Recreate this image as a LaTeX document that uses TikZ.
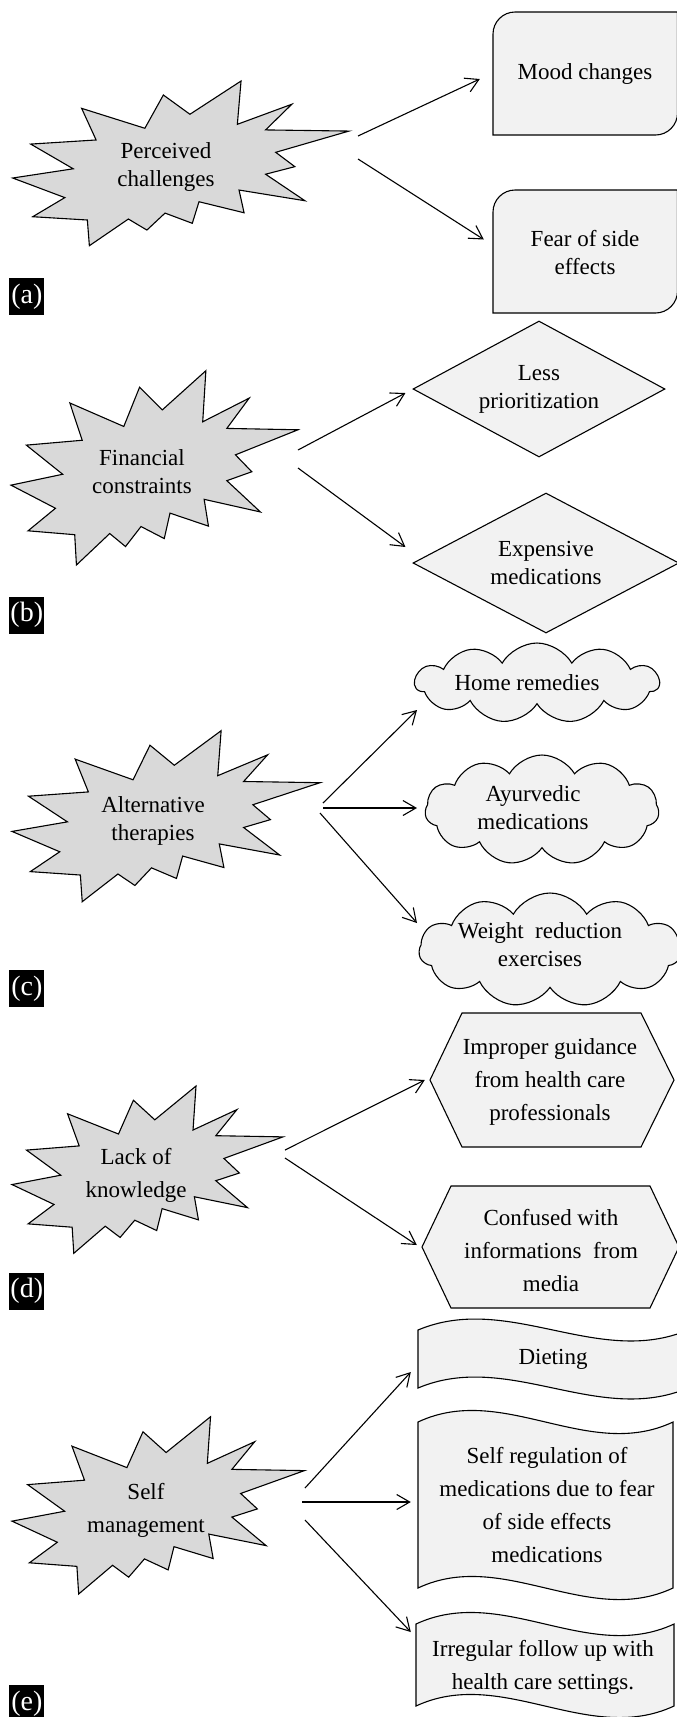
\documentclass[tikz,border=0pt]{standalone}
\usepackage{fontspec}
\setmainfont{Liberation Serif}
\usetikzlibrary{shapes.geometric,shapes.symbols,arrows.meta}
\definecolor{burstgray}{RGB}{217,217,217}
\definecolor{shapegray}{RGB}{242,242,242}

\begin{document}
\begin{tikzpicture}[x=1pt,y=-1pt,
	burstline/.style={draw=black,fill=burstgray,line width=1.1pt},
	shapeline/.style={draw=black,fill=shapegray,line width=1.1pt},
	txt/.style={align=center,inner sep=0pt,font=\fontsize{23}{28}\selectfont},
	txtwide/.style={txt,font=\fontsize{23}{33}\selectfont},
	diam/.style={shapeline,diamond,aspect=1.85,txt},
	cloudy/.style={shapeline,cloud,cloud puffs=11,cloud puff arc=120,cloud ignores aspect,inner sep=0pt},
	tag/.style={fill=black,text=white,inner sep=0pt,minimum width=35,minimum height=37,font=\fontsize{28}{28}\selectfont},
	arr/.style={line width=1.1pt,-{Straight Barb[length=13pt,width=15pt]}},
	pics/burst/.style={code={
		\draw[burstline] (0,.589) -- (.180,.533) -- (.0535,.383) -- (.248,.358) -- (.205,.166) -- (.393,.287) -- (.448,.085) -- (.527,.202) -- (.679,0) -- (.668,.263) -- (.830,.141) -- (.752,.297) -- (1,.304) -- (.782,.433) -- (.839,.520) -- (.752,.566) -- (.869,.727) -- (.673,.662) -- (.688,.800) -- (.554,.733) -- (.534,.864) -- (.453,.802) -- (.399,.905) -- (.344,.838) -- (.228,1) -- (.222,.844) -- (.0595,.824) -- (.155,.708) -- cycle;
	}}]
	\clip (0,0) rectangle (677,1717);

	% (a) perceived challenges
	\pic[xscale=336.3,yscale=164.7] at (12.7,81) {burst};
	\node[txt] (perc) at (166,167) {Perceived\\challenges};
	\draw[shapeline] (493,135) -- (493,34) .. controls (493,21.9) and (502.9,12) .. (515,12) -- (677.5,12) -- (677.5,113) .. controls (677.5,125.1) and (667.6,135) .. (655.5,135) -- cycle;
	\draw[shapeline] (493,313) -- (493,212) .. controls (493,199.9) and (502.9,190) .. (515,190) -- (677.5,190) -- (677.5,291) .. controls (677.5,303.1) and (667.6,313) .. (655.5,313) -- cycle;
	\node[txt,minimum width=184,minimum height=123] (mood) at (585,74) {Mood changes};
	\node[txt,minimum width=184,minimum height=123] (fear) at (585,252.5) {Fear of side\\effects};
	\coordinate (perc1) at (358,136);
	\coordinate (perc2) at (358,159);
	\draw[arr] (perc1) -- ([shift={(-13,5)}]mood.west);
	\draw[arr] (perc2) -- ([shift={(-9,-13)}]fear.west);
	\node[tag] (taga) at (26.8,296.5) {(a)};

	% (b) financial constraints
	\pic[xscale=287,yscale=194.3] at (11,370.7) {burst};
	\node[txt] (fin) at (142,472) {Financial\\constraints};
	\node[diam,minimum width=252,minimum height=136] (less) at (539,389) {Less\\prioritization};
	\node[diam,minimum width=266,minimum height=140] (expens) at (546,563) {Expensive\\medications};
	\coordinate (fin1) at (298,450);
	\coordinate (fin2) at (298,468);
	\draw[arr] (fin1) -- ([shift={(-7,4)}]less.west);
	\draw[arr] (fin2) -- ([shift={(-7,-16)}]expens.west);
	\node[tag] (tagb) at (26.8,615) {(b)};

	% (c) alternative therapies
	\pic[xscale=308,yscale=171] at (12,730.7) {burst};
	\node[txt] (alt) at (153,821) {Alternative\\therapies};
	\node[cloudy,minimum width=244,minimum height=80] (home) at (537,683) {};
	\node[cloudy,minimum width=234,minimum height=110] (ayur) at (542,810) {};
	\node[cloudy,minimum width=262,minimum height=114] (weight) at (550,950) {};
	\node[txt] (homeT) at (527,683) {Home remedies};
	\node[txt] (ayurT) at (533,808) {Ayurvedic\\medications};
	\node[txt] (weightT) at (540,945) {Weight\ \ reduction\\exercises};
	\coordinate (alt1) at (323,803);
	\coordinate (alt2) at (323,808);
	\coordinate (alt3) at (320,813);
	\draw[arr] (alt1) -- ([shift={(-120,27)}]home.center);
	\draw[arr] (alt2) -- ([shift={(-125,-2)}]ayur.center);
	\draw[arr] (alt3) -- ([shift={(-133,-27)}]weight.center);
	\node[tag] (tagc) at (26.8,988.5) {(c)};

	% (d) lack of knowledge
	\pic[xscale=271,yscale=167.3] at (12,1086) {burst};
	\node[txtwide] (lack) at (136,1175) {Lack of\\knowledge};
	\draw[shapeline] (430,1080) -- (462,1013) -- (641,1013) -- (674,1080) -- (641,1147) -- (462,1147) -- cycle;
	\draw[shapeline] (422,1247) -- (451,1186) -- (650,1186) -- (679,1247) -- (650,1308) -- (451,1308) -- cycle;
	\node[txtwide,minimum width=244] (imp) at (550,1082) {Improper guidance\\from health care\\professionals};
	\node[txtwide,minimum width=257] (conf) at (551,1250) {Confused with\\informations\ \ from\\media};
	\coordinate (lack1) at (285,1150);
	\coordinate (lack2) at (285,1158);
	\draw[arr] (lack1) -- ([shift={(-3,-2)}]imp.west);
	\draw[arr] (lack2) -- ([shift={(-5.5,-5)}]conf.west);
	\node[tag] (tagd) at (26.8,1291) {(d)};

	% (e) self management
	\pic[xscale=292.4,yscale=177.3] at (12,1416.7) {burst};
	\node[txtwide] (selfm) at (146,1510) {Self\\management};
	\draw[shapeline] (418,1330) .. controls (508,1292) and (598,1368) .. (688,1330) -- (688,1388) .. controls (598,1426) and (508,1350) .. (418,1388) -- cycle;
	\draw[shapeline] (418,1422) .. controls (503,1382) and (588,1462) .. (673,1422) -- (673,1588) .. controls (588,1628) and (503,1548) .. (418,1588) -- cycle;
	\draw[shapeline] (416,1624) .. controls (502,1584) and (588,1664) .. (674,1624) -- (674,1706) .. controls (588,1746) and (502,1666) .. (416,1706) -- cycle;
	\node[txt,minimum width=270] (diet) at (553,1359) {Dieting};
	\node[txtwide,minimum width=255] (selfreg) at (547,1505) {Self regulation of\\medications due to fear\\of side effects\\medications};
	\node[txtwide,minimum width=258] (irreg) at (543,1667) {Irregular follow up with\\health care settings.};
	\coordinate (self1) at (305,1488);
	\coordinate (self2) at (302,1502);
	\coordinate (self3) at (305,1520);
	\draw[arr] (self1) -- ([shift={(-7,13)}]diet.west);
	\draw[arr] (self2) -- ([shift={(-8.5,-3)}]selfreg.west);
	\draw[arr] (self3) -- ([shift={(-3,-35)}]irreg.west);
	\node[tag] (tage) at (26.8,1703.5) {(e)};
\end{tikzpicture}
\end{document}
